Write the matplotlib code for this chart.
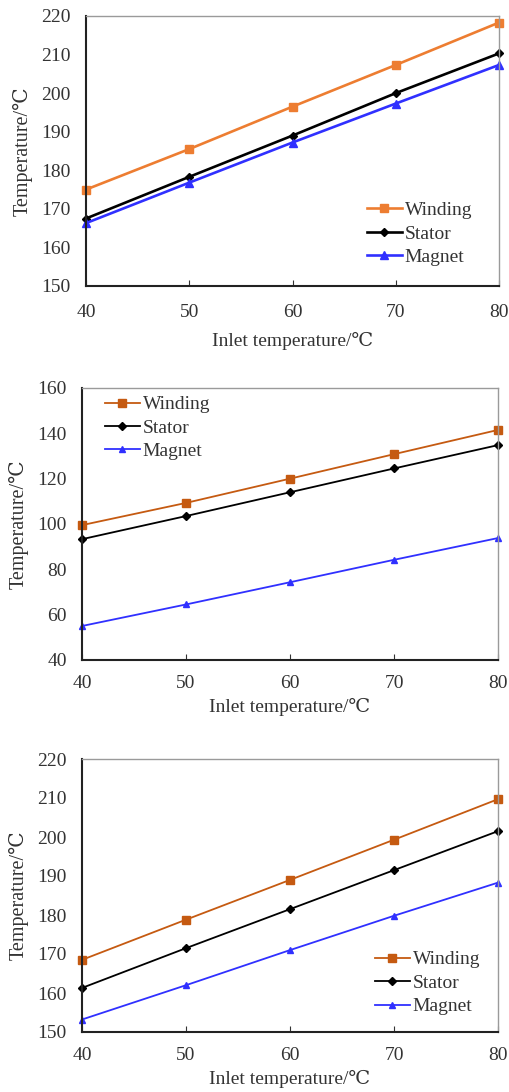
import matplotlib.pyplot as plt

plt.rcParams['font.family'] = ['Liberation Serif', 'DejaVu Serif']

# inlet temperature (x)
inlet = [40, 50, 60, 70, 80]

# panel 1
p1_winding = [175.0, 185.5, 196.5, 207.3, 218.3]
p1_stator = [167.5, 178.3, 189.0, 200.0, 210.3]
p1_magnet = [166.3, 176.8, 187.2, 197.3, 207.3]

# panel 2
p2_winding = [99.5, 109.3, 120.0, 130.8, 141.5]
p2_stator = [93.3, 103.5, 114.0, 124.5, 134.8]
p2_magnet = [55.0, 64.5, 74.3, 84.2, 93.8]

# panel 3
p3_winding = [168.5, 178.8, 189.0, 199.3, 209.7]
p3_stator = [161.3, 171.5, 181.5, 191.5, 201.5]
p3_magnet = [153.2, 162.0, 171.0, 179.8, 188.3]

labels = ['Winding', 'Stator', 'Magnet']

fig = plt.figure(figsize=(5.09, 10.92), dpi=100)

# axes rectangles in pixels: left, right, top, bottom
W, H = 509, 1092
boxes = [(86, 499, 16, 286), (82, 498, 388, 660), (82, 498, 759, 1032)]
panels = [
    # data, ylim, step, winding colour, line width, ms, legend anchor, tick pad, label pad
    (p1_winding, p1_stator, p1_magnet, (150, 220), 10, '#ED7D31', 1.9, 6, (0.68, 0.193), 13, 8),
    (p2_winding, p2_stator, p2_magnet, (40, 160), 20, '#C55A11', 1.3, 5.5, (0.055, 0.853), 11, 4),
    (p3_winding, p3_stator, p3_magnet, (150, 220), 10, '#C55A11', 1.3, 5.5, (0.704, 0.179), 11, 4),
]

for (l, r, t, b), (wind, stat, mag, ylim, step, orange, lw, ms, anchor, tpad, lpad) in zip(boxes, panels):
    ax = fig.add_axes([l / W, 1 - b / H, (r - l) / W, (b - t) / H])
    ax.plot(inlet, wind, color=orange, lw=lw, marker='s', ms=ms, label=labels[0], clip_on=False)
    ax.plot(inlet, stat, color='black', lw=lw, marker='D', ms=ms - 1.5, label=labels[1], clip_on=False)
    ax.plot(inlet, mag, color='#3030FF', lw=lw, marker='^', ms=ms - 0.5, label=labels[2], clip_on=False)

    ax.set_xlim(40, 80)
    ax.set_ylim(*ylim)
    ax.set_xticks(inlet)
    ax.set_yticks(range(ylim[0], ylim[1] + 1, step))
    ax.tick_params(axis='x', direction='in', length=4, pad=tpad, labelsize=14, colors='#333333')
    ax.tick_params(axis='y', direction='in', length=0, pad=11, labelsize=14, colors='#333333')

    for s in ['left', 'bottom']:
        ax.spines[s].set_color('#222222')
        ax.spines[s].set_linewidth(1.5)
    for s in ['top', 'right']:
        ax.spines[s].set_color('#9A9A9A')
        ax.spines[s].set_linewidth(1.0)

    ax.set_xlabel('Inlet temperature/\u2103', fontsize=14, color='#333333', labelpad=lpad)
    ax.set_ylabel('Temperature/\u2103', fontsize=14.5, color='#333333', labelpad=6)

    ax.legend(frameon=False, fontsize=14, handlelength=1.8, handletextpad=0.15,
              labelspacing=0.3, borderaxespad=0, borderpad=0, labelcolor='#333333',
              loc='center left', bbox_to_anchor=anchor)

fig.savefig('out.png', dpi=100)
